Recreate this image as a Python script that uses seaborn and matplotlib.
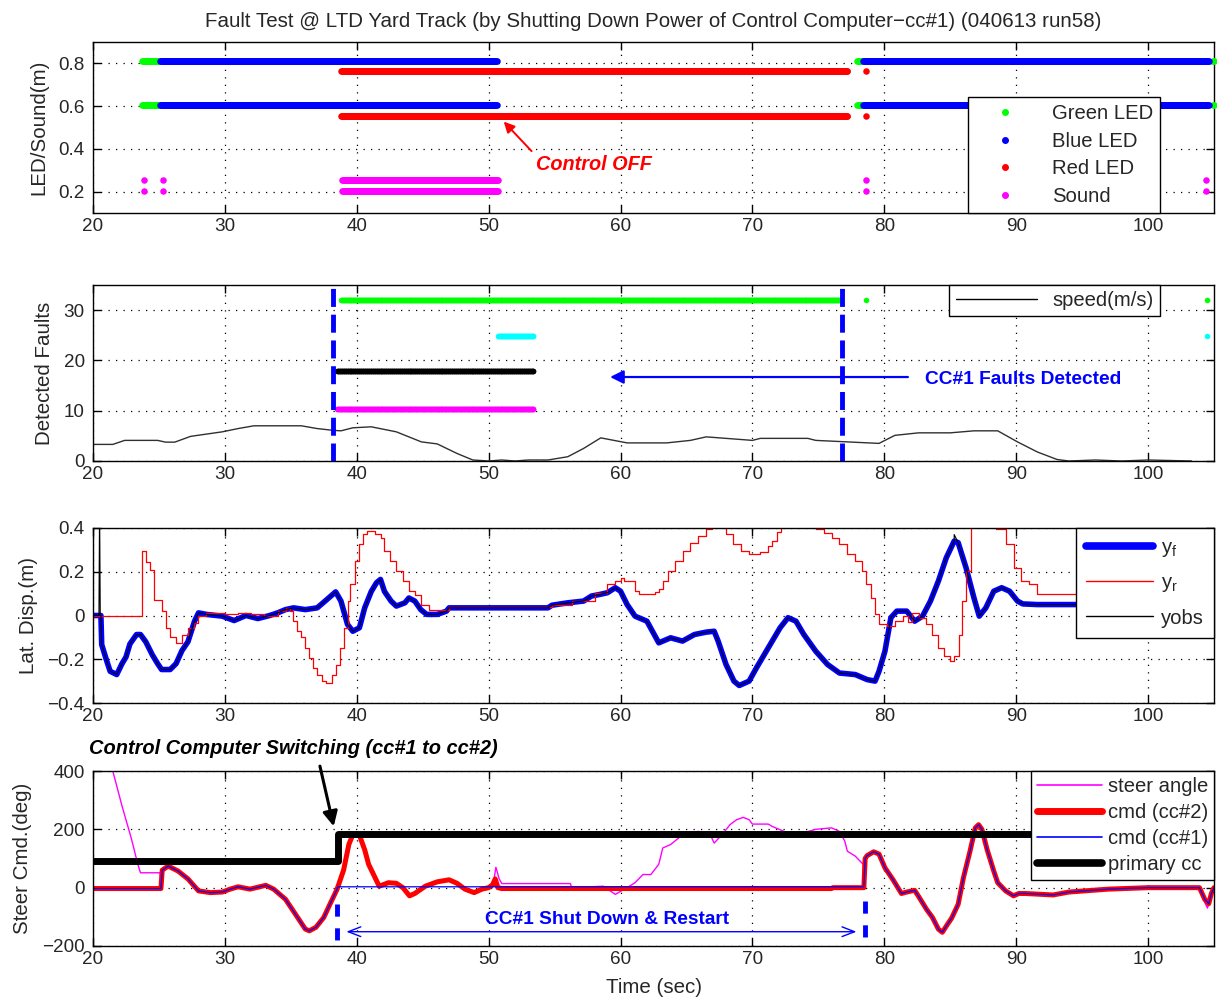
import numpy as np
import pandas as pd
import matplotlib
matplotlib.use("Agg")
import matplotlib.pyplot as plt
from matplotlib.lines import Line2D
import seaborn as sns

# ------------------------------------------------------------------ data
TITLE = ("Fault Test @ LTD Yard Track (by Shutting Down Power of Control "
         "Computer\u2212cc#1) (040613 run58)")
TIME_TICKS = [20, 30, 40, 50, 60, 70, 80, 90, 100]
TIME_TICK_LABELS = ["20", "30", "40", "50", "60", "70", "80", "90", "100"]
TIME_RANGE = (20, 105)

# panel 1 : LED / sound on-intervals (sec) and plotted levels
LED_TICKS = [0.2, 0.4, 0.6, 0.8]
LED_TICK_LABELS = ["0.2", "0.4", "0.6", "0.8"]
GREEN_LED_ON = [(23.75, 25.1), (77.95, 78.4), (104.95, 105.0)]
BLUE_LED_ON = [(25.1, 50.6), (78.4, 104.6)]
RED_LED_ON = [(38.8, 77.2), (78.65, 78.65)]
SOUND_ON = [(23.85, 23.85), (25.3, 25.3), (38.9, 50.7), (78.6, 78.6), (104.4, 104.4)]
GREEN_LEVELS = [0.813, 0.607]
BLUE_LEVELS = [0.813, 0.607]
RED_LEVELS = [0.762, 0.556]
SOUND_LEVELS = [0.255, 0.205]

# panel 2 : detected faults (intervals, level) and speed
FAULT_TICKS = [0, 10, 20, 30]
FAULT_TICK_LABELS = ["0", "10", "20", "30"]
FAULT_GREEN_ON = [(38.8, 76.6), (78.65, 78.65), (104.5, 104.5)]
FAULT_CYAN_ON = [(50.7, 53.4), (104.5, 104.5)]
FAULT_BLACK_ON = [(38.5, 53.4)]
FAULT_MAGENTA_ON = [(38.5, 53.4)]
FAULT_LEVELS = {"green": 32.1, "cyan": 24.9, "black": 17.8, "magenta": 10.3}
FAULT_MARK_TIMES = [38.2, 76.8]
SPEED_T = [20, 21.5, 22.4, 24.9, 25.5, 26.2, 27.4, 29.8, 31, 32.2, 35.8, 37, 38.2,
           38.8, 39.7, 41.1, 43, 44.9, 46.1, 47.6, 48.8, 50, 51, 52, 53, 54.5, 56,
           57.2, 58.5, 60.5, 63.5, 65.3, 66.5, 70, 70.6, 74.2, 74.8, 77.2, 79.6,
           80.8, 82.6, 85, 86.8, 88.6, 90.1, 91.6, 93.1, 94, 96, 98, 100, 103.3]
SPEED_V = [3.3, 3.3, 4.1, 4.1, 3.75, 3.75, 4.9, 5.8, 6.45, 7.0, 7.0, 6.45, 6.1,
           6.0, 6.6, 6.8, 5.8, 3.8, 3.4, 1.5, 0.2, 0.0, 0.2, 0.0, 0.2, 0.2, 0.85,
           2.5, 4.6, 3.6, 3.6, 4.1, 4.8, 4.1, 4.5, 4.5, 4.1, 3.8, 3.5,
           5.1, 5.6, 5.6, 6.0, 6.0, 3.8, 1.8, 0.3, 0.0, 0.2, 0.0, 0.2, 0.0]

# panel 3 : lateral displacement (t, value)
LAT_TICKS = [-0.4, -0.2, 0, 0.2, 0.4]
LAT_TICK_LABELS = ["\u22120.4", "\u22120.2", "0", "0.2", "0.4"]
Y_F = [(20.0, 0.0), (20.6, 0.0), (20.66, -0.133), (21.0, -0.2), (21.3, -0.255),
       (21.8, -0.27), (22.2, -0.22), (22.5, -0.19), (22.8, -0.13), (23.3, -0.087),
       (23.6, -0.087), (24.0, -0.12), (24.5, -0.18), (24.9, -0.22), (25.2, -0.247),
       (25.85, -0.247), (26.3, -0.22), (26.75, -0.16), (27.2, -0.12), (27.7, -0.026),
       (28.0, 0.012), (28.6, 0.005), (29.8, -0.003), (30.7, -0.023), (31.6, 0.0),
       (32.5, -0.014), (33.4, 0.0), (34.0, 0.012), (34.6, 0.027), (35.2, 0.035),
       (36.1, 0.027), (37.0, 0.035), (37.6, 0.066), (38.4, 0.108), (38.8, 0.066),
       (39.3, -0.041), (39.7, -0.072), (40.2, -0.056), (40.6, 0.035), (41.1, 0.11),
       (41.5, 0.15), (41.8, 0.165), (42.1, 0.11), (42.6, 0.066), (43.0, 0.043),
       (43.65, 0.058), (43.95, 0.08), (44.4, 0.066), (44.85, 0.027), (45.3, 0.005),
       (46.1, 0.005), (46.8, 0.02), (47.0, 0.035), (54.5, 0.035), (54.8, 0.047),
       (56.0, 0.058), (57.2, 0.066), (57.8, 0.089), (58.4, 0.096), (59.0, 0.104),
       (59.6, 0.127), (60.0, 0.111), (60.5, 0.05), (61.1, -0.003), (62.0, -0.026),
       (62.9, -0.125), (63.8, -0.102), (64.7, -0.117), (65.6, -0.087), (66.5, -0.076),
       (67.1, -0.072), (67.4, -0.117), (68.0, -0.224), (68.6, -0.3), (69.0, -0.32),
       (69.75, -0.3), (70.3, -0.24), (71.2, -0.148), (72.1, -0.056), (72.7, -0.01),
       (73.3, -0.026), (73.9, -0.087), (74.8, -0.163), (75.7, -0.224), (76.6, -0.263),
       (77.8, -0.27), (78.7, -0.293), (79.3, -0.3), (79.6, -0.255), (80.05, -0.163),
       (80.5, -0.01), (80.95, 0.02), (81.7, 0.02), (82.3, -0.026), (82.9, -0.003),
       (83.5, 0.066), (84.1, 0.157), (84.7, 0.264), (85.3, 0.34), (85.6, 0.333),
       (86.2, 0.218), (86.8, 0.08), (87.2, -0.003), (87.7, 0.035), (88.3, 0.111),
       (88.9, 0.127), (89.5, 0.111), (90.1, 0.066), (90.5, 0.053), (91.6, 0.05),
       (105.0, 0.05)]
Y_R = [(20.0, 0.0), (23.7, 0.295), (24.05, 0.244), (24.3, 0.21), (24.65, 0.07),
       (25.25, 0.02), (25.55, -0.056), (25.85, -0.1), (26.3, -0.125), (26.75, -0.087),
       (27.2, -0.056), (27.65, -0.034), (27.95, 0.0), (28.55, 0.012), (30.0, 0.005),
       (31.0, 0.012), (32.0, 0.005), (33.0, 0.0), (34.0, 0.02), (34.6, 0.035),
       (34.9, 0.02), (35.2, -0.026), (35.5, -0.072), (35.8, -0.1), (36.1, -0.148),
       (36.4, -0.194), (36.7, -0.24), (37.0, -0.27), (37.4, -0.3), (37.7, -0.308),
       (38.1, -0.27), (38.4, -0.224), (38.7, -0.148), (39.0, -0.056), (39.3, 0.066),
       (39.5, 0.142), (39.9, 0.249), (40.2, 0.325), (40.5, 0.371), (40.8, 0.386),
       (41.4, 0.371), (41.8, 0.356), (42.1, 0.295), (42.5, 0.249), (43.0, 0.203),
       (43.5, 0.157), (43.95, 0.111), (44.4, 0.096), (44.85, 0.05), (45.5, 0.027),
       (46.4, 0.027), (47.0, 0.04), (54.8, 0.05), (56.3, 0.066), (58.1, 0.104),
       (59.0, 0.142), (59.6, 0.157), (60.0, 0.173), (60.3, 0.157), (61.1, 0.111),
       (61.4, 0.099), (62.6, 0.108), (62.9, 0.119), (63.2, 0.157), (63.6, 0.203),
       (64.1, 0.249), (64.7, 0.295), (65.3, 0.333), (65.9, 0.363), (66.5, 0.394),
       (66.9, 0.43), (67.7, 0.43), (68.0, 0.371), (68.55, 0.325), (69.1, 0.295),
       (69.75, 0.282), (70.6, 0.29), (71.2, 0.32), (71.5, 0.34), (71.9, 0.38),
       (72.2, 0.43), (74.6, 0.43), (74.8, 0.394), (75.4, 0.378), (76.0, 0.356),
       (76.6, 0.325), (77.2, 0.279), (77.8, 0.249), (78.3, 0.203), (78.6, 0.142),
       (79.0, 0.08), (79.3, 0.005), (79.6, -0.041), (80.2, -0.049), (80.8, -0.026),
       (81.4, 0.0), (81.8, -0.03), (82.1, 0.01), (82.6, -0.01), (83.2, -0.041),
       (83.6, -0.087), (84.1, -0.148), (84.5, -0.186), (85.0, -0.209), (85.3, -0.186),
       (85.7, -0.087), (85.9, 0.066), (86.2, 0.203), (86.6, 0.45), (88.5, 0.394),
       (89.2, 0.325), (89.8, 0.218), (90.4, 0.157), (91.0, 0.142), (91.6, 0.1),
       (105.0, 0.1)]
YOBS_START = [(20.0, 0.0), (20.45, 0.0), (20.5, 0.5), (20.55, 0.0), (20.6, 0.0)]
YOBS_PEAK = [(85.3, 0.37)]

# panel 4 : steering (t, deg)
STEER_TICKS = [-200, 0, 200, 400]
STEER_TICK_LABELS = ["\u2212200", "0", "200", "400"]
CMD_CC2 = [(20.0, -3), (25.15, -3), (25.25, 60), (25.7, 74), (26.45, 57), (27.2, 30),
           (28.0, -11), (28.9, -17), (29.8, -15), (30.4, -5), (31.0, 3), (31.9, -5),
           (33.1, 8), (33.7, -5), (34.6, -40), (35.35, -91), (36.1, -142), (36.4, -148),
           (36.9, -136), (37.5, -102), (37.9, -63), (38.5, -6), (39.0, 60), (39.4, 148),
           (39.7, 182), (40.2, 180), (40.6, 130), (40.9, 80), (41.7, 5), (42.4, 17),
           (43.0, 15), (43.5, 0), (44.0, -28), (44.4, -20), (45.2, 5), (46.1, 20),
           (47.0, 27), (47.6, 15), (48.2, -5), (48.9, -17), (49.5, -5), (50.0, 0),
           (50.3, 10), (50.5, 30), (50.7, 0), (51.0, -3), (76.0, -3), (76.1, 0),
           (78.45, 0), (78.55, 100), (78.7, 110), (79.2, 123), (79.6, 115), (80.05, 68),
           (80.65, 28), (81.3, -20), (81.7, -15), (82.3, -9), (82.6, -30), (83.2, -74),
           (83.65, -102), (84.1, -142), (84.4, -153), (84.8, -125), (85.1, -105),
           (85.6, -57), (86.0, 34), (86.5, 125), (86.9, 205), (87.15, 216), (87.4, 200),
           (87.8, 130), (88.3, 57), (88.6, 17), (89.2, -11), (89.8, -28), (90.2, -20),
           (90.7, -20), (92.8, -25), (94.0, -15), (97.0, -5), (100.0, 0), (103.9, 0),
           (104.3, -40), (104.6, -55), (104.8, -20), (105.0, 0)]
CC1_OFF_WINDOW = (38.55, 78.5)
CC1_OFF_VALUE = 3
STEER_START = [(21.0, 470), (21.3, 420), (21.5, 400), (22.2, 280), (22.9, 170),
               (23.4, 80), (23.6, 51), (25.1, 51)]
STEER_MID = [(50.35, 12), (50.55, 70), (50.8, 30), (51.0, 14), (56.2, 14), (56.3, 0),
             (58.7, 5), (59.6, -23), (60.5, 0), (61.1, 17), (61.7, 45), (62.3, 45),
             (62.9, 80), (63.2, 136), (63.8, 148), (64.4, 170), (65.0, 187), (65.9, 193),
             (66.8, 182), (67.1, 153), (67.7, 182), (68.3, 216), (68.8, 233), (69.3, 241),
             (69.75, 233), (70.0, 218), (71.2, 218), (71.5, 210), (72.4, 193), (73.0, 180),
             (74.0, 190), (74.8, 200), (76.0, 205), (76.6, 193), (77.0, 160), (77.2, 125),
             (77.8, 108), (78.4, 80)]
STEER_END = [(103.9, 0), (104.2, -40), (104.5, -70), (104.8, -30), (105.0, 0)]
PRIMARY_CC = [(20.0, 93), (38.55, 185), (105.0, 185)]
SHUTDOWN_MARKS = [(38.5, -57, -182), (78.5, -45, -185)]

# ------------------------------------------------------------------ style
sns.set_style("ticks")
plt.rcParams["font.family"] = ["Liberation Sans", "DejaVu Sans"]
plt.rcParams["mathtext.fontset"] = "custom"
plt.rcParams["mathtext.rm"] = "Liberation Sans"
plt.rcParams["axes.unicode_minus"] = True

TICK_FS = 13.6
LABEL_FS = 14.8
LEG_FS = 14.6

C_GREEN, C_BLUE, C_RED, C_MAG, C_CYAN = "#00ff00", "#0000ff", "#ff0000", "#ff00ff", "#00ffff"

fig = plt.figure(figsize=(12.17, 9.99), dpi=100)
LEFT, WIDTH = 93 / 1217, (1214 - 93) / 1217


def box(top, bot):
    return [LEFT, 1 - bot / 999, WIDTH, (bot - top) / 999]


ax1 = fig.add_axes(box(42, 213))
ax2 = fig.add_axes(box(285, 461))
ax3 = fig.add_axes(box(528, 703))
ax4 = fig.add_axes(box(771, 946))


def style(ax, ylim, yticks, ylabels, ylabel):
    ax.set_xlim(*TIME_RANGE)
    ax.set_xticks(TIME_TICKS)
    ax.set_xticklabels(TIME_TICK_LABELS)
    ax.set_ylim(*ylim)
    ax.set_yticks(yticks)
    ax.set_yticklabels(ylabels)
    ax.grid(True, color="black", linestyle=(0, (1, 5)), linewidth=0.9)
    ax.set_axisbelow(True)
    ax.tick_params(direction="in", top=True, right=True, length=6, width=1,
                   labelsize=TICK_FS, color="black")
    ax.tick_params(axis="x", pad=3.5)
    ax.tick_params(axis="y", pad=6)
    for s in ax.spines.values():
        s.set_visible(True)
        s.set_color("black")
        s.set_linewidth(1)
    ax.set_xlabel("")
    ax.set_ylabel(ylabel, fontsize=LABEL_FS, labelpad=7)


def intervals_to_frame(intervals, levels, step=0.05):
    rows = []
    for t0, t1 in intervals:
        ts = np.arange(t0, t1 + 1e-9, step) if t1 > t0 else np.array([t0])
        for lv in levels:
            rows.append(pd.DataFrame({"t": ts, "v": lv}))
    return pd.concat(rows, ignore_index=True)


def pairs(p):
    a = np.array(p, dtype=float)
    return a[:, 0], a[:, 1]


# ------------------------------------------------------------------ panel 1
for intervals, levels, col in [(GREEN_LED_ON, GREEN_LEVELS, C_GREEN),
                               (BLUE_LED_ON, BLUE_LEVELS, C_BLUE),
                               (RED_LED_ON, RED_LEVELS, C_RED),
                               (SOUND_ON, SOUND_LEVELS, C_MAG)]:
    df = intervals_to_frame(intervals, levels)
    sns.scatterplot(data=df, x="t", y="v", ax=ax1, color=col, s=22, linewidth=0,
                    legend=False, zorder=3, clip_on=False if col == C_GREEN else True)
style(ax1, (0.1, 0.9), LED_TICKS, LED_TICK_LABELS, "LED/Sound(m)")
ax1.set_title(TITLE, fontsize=LABEL_FS, pad=11)
leg_handles = [Line2D([], [], marker=".", ls="none", color=c, markersize=8)
               for c in (C_GREEN, C_BLUE, C_RED, C_MAG)]
leg1 = ax1.legend(leg_handles, ["Green LED", "Blue LED", "Red LED", "Sound"],
                  loc="lower right", bbox_to_anchor=(0.952, 0.0), borderaxespad=0,
                  fontsize=LEG_FS, frameon=True, fancybox=False, edgecolor="black",
                  framealpha=1, handlelength=3.0, handletextpad=0.8, labelspacing=0.42,
                  borderpad=0.35)
leg1.get_frame().set_linewidth(1)
ax1.annotate("", xy=(51.0, 0.537), xytext=(53.4, 0.38),
             arrowprops=dict(arrowstyle="-|>", color=C_RED, lw=1.4, mutation_scale=16))
ax1.text(53.6, 0.325, "Control OFF", color=C_RED, fontsize=14.3, fontweight="bold",
         fontstyle="italic", ha="left", va="center")

# ------------------------------------------------------------------ panel 2
for intervals, key, col in [(FAULT_GREEN_ON, "green", C_GREEN),
                            (FAULT_CYAN_ON, "cyan", C_CYAN),
                            (FAULT_BLACK_ON, "black", "black"),
                            (FAULT_MAGENTA_ON, "magenta", C_MAG)]:
    df = intervals_to_frame(intervals, [FAULT_LEVELS[key]])
    sns.scatterplot(data=df, x="t", y="v", ax=ax2, color=col, s=16, linewidth=0,
                    legend=False, zorder=3)
sns.lineplot(x=SPEED_T, y=SPEED_V, ax=ax2, color="#303030", lw=1.0,
             estimator=None, sort=False, zorder=2)
for tm in FAULT_MARK_TIMES:
    ax2.axvline(tm, color=C_BLUE, lw=3.5, dashes=(3.7, 1.6), zorder=4)
style(ax2, (0, 35), FAULT_TICKS, FAULT_TICK_LABELS, "Detected Faults")
leg2 = ax2.legend([Line2D([], [], color="black", lw=1)], ["speed(m/s)"],
                  loc="upper right", bbox_to_anchor=(0.952, 1.0), borderaxespad=0,
                  fontsize=LEG_FS, frameon=True, fancybox=False, edgecolor="black",
                  framealpha=1, handlelength=4.0, handletextpad=0.8, borderpad=0.3)
leg2.get_frame().set_linewidth(1)
ax2.annotate("", xy=(59.0, 16.7), xytext=(82.0, 16.7),
             arrowprops=dict(arrowstyle="-|>", color=C_BLUE, lw=1.6, mutation_scale=20))
ax2.text(83.05, 16.3, "CC#1 Faults Detected", color=C_BLUE, fontsize=13.8,
         fontweight="bold", ha="left", va="center")

# ------------------------------------------------------------------ panel 3
yf_t, yf_v = pairs(Y_F)
yr_t, yr_v = pairs(Y_R)
yobs = YOBS_START + [p for p in Y_F if p[0] > 20.6]
yobs = sorted(yobs + YOBS_PEAK)
yo_t, yo_v = pairs(yobs)
sns.lineplot(x=yf_t, y=yf_v, ax=ax3, color=C_BLUE, lw=4.0, estimator=None, sort=False)
sns.lineplot(x=yr_t, y=yr_v, ax=ax3, color=C_RED, lw=0.9, estimator=None, sort=False,
             drawstyle="steps-post")
sns.lineplot(x=yo_t, y=yo_v, ax=ax3, color="black", lw=0.8, estimator=None, sort=False)
style(ax3, (-0.4, 0.4), LAT_TICKS, LAT_TICK_LABELS, "Lat. Disp.(m)")
leg3 = ax3.legend([Line2D([], [], color=C_BLUE, lw=5.5),
                   Line2D([], [], color=C_RED, lw=1),
                   Line2D([], [], color="black", lw=1)],
                  [r"$\mathregular{y_f}$", r"$\mathregular{y_r}$", "yobs"],
                  loc="upper right", borderaxespad=0, fontsize=LEG_FS, frameon=True,
                  fancybox=False, edgecolor="black", framealpha=1, handlelength=3.3,
                  handletextpad=0.4, labelspacing=0.7, borderpad=0.5)
leg3.get_frame().set_linewidth(1)

# ------------------------------------------------------------------ panel 4
c2_t, c2_v = pairs(CMD_CC2)
off = (c2_t > CC1_OFF_WINDOW[0]) & (c2_t < CC1_OFF_WINDOW[1])
c1_t = np.concatenate([c2_t[~off & (c2_t <= CC1_OFF_WINDOW[0])], [CC1_OFF_WINDOW[0], CC1_OFF_WINDOW[1] - 0.05],
                       c2_t[~off & (c2_t >= CC1_OFF_WINDOW[1])]])
c1_v = np.concatenate([c2_v[~off & (c2_t <= CC1_OFF_WINDOW[0])], [CC1_OFF_VALUE, CC1_OFF_VALUE],
                       c2_v[~off & (c2_t >= CC1_OFF_WINDOW[1])]])
st_s = pairs(STEER_START)
st_m = pairs(STEER_MID)
st_e = pairs(STEER_END)
follow1 = (c2_t > st_s[0][-1]) & (c2_t < st_m[0][0])
follow2 = (c2_t > st_m[0][-1]) & (c2_t < st_e[0][0])
steer_t = np.concatenate([st_s[0], c2_t[follow1], st_m[0], c2_t[follow2], st_e[0]])
steer_v = np.concatenate([st_s[1], c2_v[follow1], st_m[1], c2_v[follow2], st_e[1]])
pc_t, pc_v = pairs(PRIMARY_CC)

sns.lineplot(x=steer_t, y=steer_v, ax=ax4, color=C_MAG, lw=1.0, estimator=None, sort=False)
sns.lineplot(x=c2_t, y=c2_v, ax=ax4, color=C_RED, lw=3.6, estimator=None, sort=False)
sns.lineplot(x=c1_t, y=c1_v, ax=ax4, color=C_BLUE, lw=0.9, estimator=None, sort=False)
sns.lineplot(x=pc_t, y=pc_v, ax=ax4, color="black", lw=5.0, estimator=None, sort=False,
             drawstyle="steps-post")
style(ax4, (-200, 400), STEER_TICKS, STEER_TICK_LABELS, "Steer Cmd.(deg)")
ax4.set_xlabel("Time (sec)", fontsize=LABEL_FS, labelpad=7)
leg4 = ax4.legend([Line2D([], [], color=C_MAG, lw=1.2),
                   Line2D([], [], color=C_RED, lw=5),
                   Line2D([], [], color=C_BLUE, lw=1.2),
                   Line2D([], [], color="black", lw=5.5)],
                  ["steer angle", "cmd (cc#2)", "cmd (cc#1)", "primary cc"],
                  loc="upper right", borderaxespad=0, fontsize=LEG_FS, frameon=True,
                  fancybox=False, edgecolor="black", framealpha=1, handlelength=3.2,
                  handletextpad=0.3, labelspacing=0.35, borderpad=0.3)
leg4.get_frame().set_linewidth(1)
for tm, y0, y1 in SHUTDOWN_MARKS:
    ax4.plot([tm, tm], [y0, y1], color=C_BLUE, lw=3.5, dashes=(2.5, 2.4))
ax4.annotate("", xy=(39.0, -151), xytext=(78.1, -151),
             arrowprops=dict(arrowstyle="<->,head_length=0.9,head_width=0.35",
                             color=C_BLUE, lw=1.0))
ax4.text(58.95, -108, "CC#1 Shut Down & Restart", color=C_BLUE, fontsize=13.8,
         fontweight="bold", ha="center", va="center")
ax4.text(19.67, 477, "Control Computer Switching (cc#1 to cc#2)", color="black",
         fontsize=14.4, fontweight="bold", fontstyle="italic", ha="left", va="center",
         clip_on=False)
ax4.annotate("", xy=(38.3, 201), xytext=(37.16, 426), annotation_clip=False,
             arrowprops=dict(arrowstyle="-|>", color="black", lw=2.2, mutation_scale=22))

fig.savefig("out.png", dpi=100)
